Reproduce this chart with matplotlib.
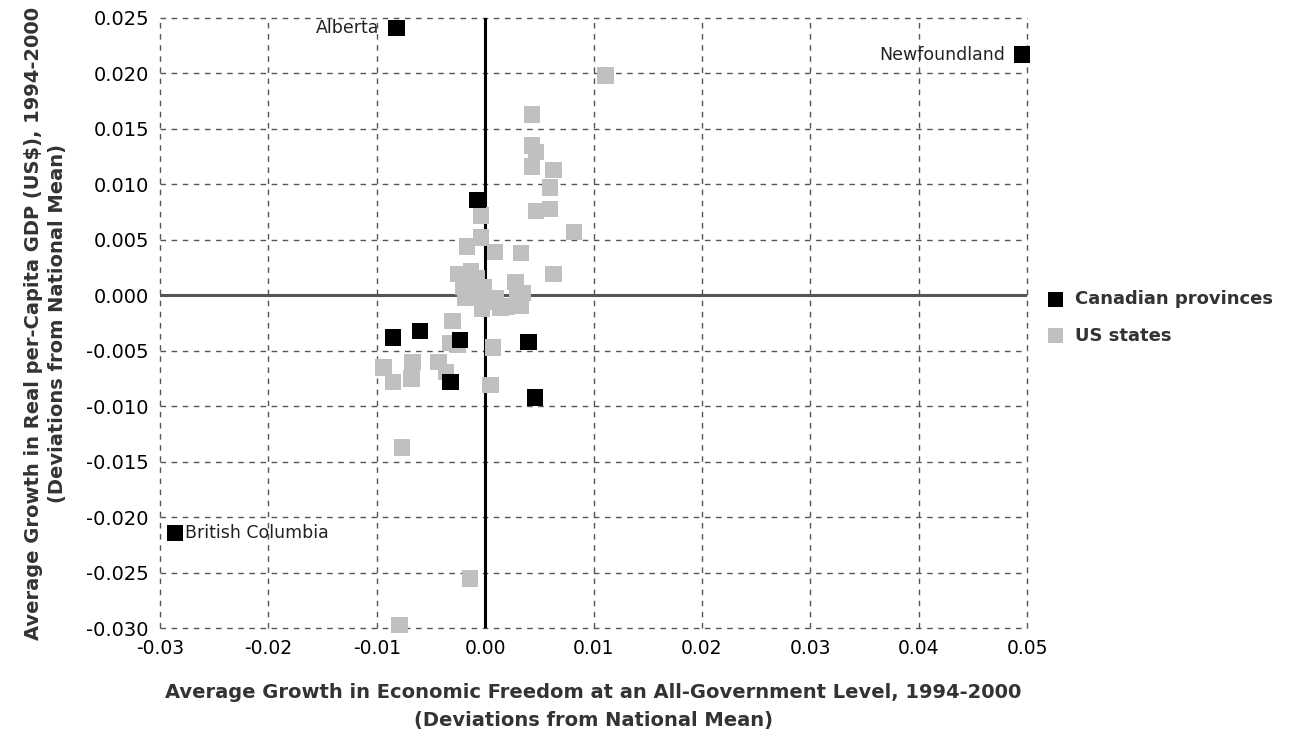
import matplotlib
matplotlib.use('Agg')
import matplotlib.pyplot as plt
import numpy as np

# Canadian provinces (x = growth in econ freedom dev, y = growth in GDP dev)
can_x = [-0.0082, 0.0495, -0.0286, -0.0007, -0.0085, -0.0060, -0.0023, 0.0040, -0.0032, 0.0046]
can_y = [0.0241, 0.0217, -0.0214, 0.0086, -0.0038, -0.0032, -0.0040, -0.0042, -0.0078, -0.0092]
can_names = ['Alberta', 'Newfoundland', 'British Columbia']

# US states
us_x = [0.0111, 0.0043, 0.0043, 0.0047, 0.0043, 0.0063, 0.0060, 0.0047, 0.0060, 0.0082,
        -0.0004, -0.0004, -0.0017, 0.0009, 0.0033, 0.0063, -0.0025, -0.0013, 0.0028, -0.0015,
        -0.0001, -0.0018, 0.0005, 0.0014, 0.0030, 0.0033, -0.0003, -0.0030, -0.0032, 0.0007,
        -0.0094, -0.0085, -0.0067, -0.0068, -0.0043, -0.0036, 0.0005, -0.0077, -0.0014, -0.0079,
        -0.0025, -0.0012, 0.0010, 0.0020, -0.0008, 0.0035, -0.0020, 0.0000]
us_y = [0.0198, 0.0163, 0.0135, 0.0129, 0.0116, 0.0113, 0.0097, 0.0076, 0.0078, 0.0057,
        0.0072, 0.0052, 0.0044, 0.0039, 0.0038, 0.0019, 0.0019, 0.0022, 0.0012, 0.0011,
        0.0007, -0.0002, -0.0006, -0.0011, 0.0001, -0.0009, -0.0012, -0.0023, -0.0043, -0.0047,
        -0.0065, -0.0078, -0.0060, -0.0075, -0.0060, -0.0069, -0.0081, -0.0137, -0.0255, -0.0297,
        -0.0045, 0.0000, -0.0003, -0.0010, 0.0015, 0.0002, 0.0008, -0.0005]

x_ticks = [-0.03, -0.02, -0.01, 0.00, 0.01, 0.02, 0.03, 0.04, 0.05]
y_ticks = [0.025, 0.020, 0.015, 0.010, 0.005, 0.000, -0.005, -0.010, -0.015, -0.020, -0.025, -0.030]

fig = plt.figure(figsize=(13.04, 7.47), dpi=100)
ax = fig.add_axes([0.1227, 0.159, 0.665, 0.817])

ax.set_xlim(-0.03, 0.05)
ax.set_ylim(-0.030, 0.025)
for s in ax.spines.values():
    s.set_visible(False)

# dashed grid, including the outer box
for t in x_ticks:
    ax.axvline(t, color='#555555', lw=1, ls=(0, (4, 4)), zorder=0, clip_on=False)
for t in y_ticks:
    ax.axhline(t, color='#555555', lw=1, ls=(0, (4, 4)), zorder=0, clip_on=False)
ax.axvline(0, color='black', lw=2.2, zorder=1)
ax.axhline(0, color='#555555', lw=2.2, zorder=1)

ax.scatter(us_x, us_y, marker='s', s=140, color='#bfbfbf', edgecolors='none', zorder=2,
           label='US states', clip_on=False)
ax.scatter(can_x, can_y, marker='s', s=140, color='black', edgecolors='none', zorder=3,
           label='Canadian provinces', clip_on=False)

ax.annotate(can_names[0], (can_x[0], can_y[0]), xytext=(-12, 0), textcoords='offset points',
            ha='right', va='center', fontsize=12.5, color='#222222')
ax.annotate(can_names[1], (can_x[1], can_y[1]), xytext=(-12, 0), textcoords='offset points',
            ha='right', va='center', fontsize=12.5, color='#222222')
ax.annotate(can_names[2], (can_x[2], can_y[2]), xytext=(7, 0), textcoords='offset points',
            ha='left', va='center', fontsize=12.5, color='#222222')

ax.set_xticks(x_ticks)
ax.set_xticklabels(['%.2f' % t for t in x_ticks], fontsize=13.5)
ax.set_yticks(y_ticks)
ax.set_yticklabels(['%.3f' % t for t in y_ticks], fontsize=14)
ax.tick_params(length=0, pad=8)

ax.set_xlabel('Average Growth in Economic Freedom at an All-Government Level, 1994-2000\n(Deviations from National Mean)',
              fontsize=14, fontweight='bold', color='#333333', labelpad=18, linespacing=1.55)
ax.set_ylabel('Average Growth in Real per-Capita GDP (US$), 1994-2000\n(Deviations from National Mean)',
              fontsize=14, fontweight='bold', color='#333333', labelpad=14, linespacing=1.3)

handles, labels = ax.get_legend_handles_labels()
leg = fig.legend(handles[::-1], labels[::-1], loc='center left', bbox_to_anchor=(0.783, 0.575),
                 frameon=False, prop={'weight': 'bold', 'size': 13},
                 handletextpad=0.1, labelspacing=1.0, markerscale=0.9)
for t in leg.get_texts():
    t.set_color('#333333')

fig.savefig('out.png', dpi=100)
